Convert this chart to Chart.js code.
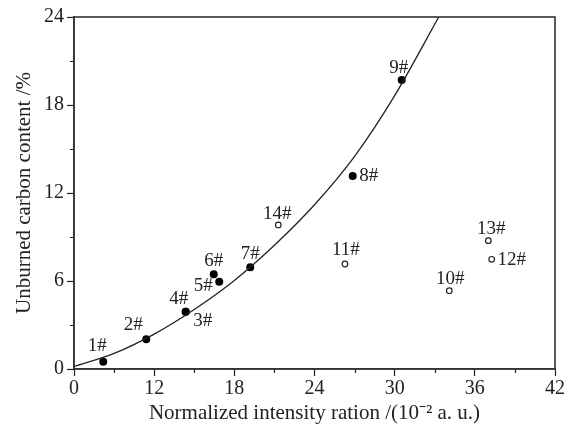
<!DOCTYPE html>
<html>
<head>
<meta charset="utf-8">
<script src="https://cdn.jsdelivr.net/npm/chart.js@4/dist/chart.umd.min.js"></script>
<style>
  html, body { margin: 0; padding: 0; background: #fff; }
  canvas { display: block; }
</style>
</head>
<body>
<canvas id="c" width="574" height="426"></canvas>
<script>
// Samples lying on the fitted trend (filled markers)
const fitSamples = ['1#', '2#', '3#', '4#', '5#', '6#', '7#', '8#', '9#'];
const fitSampleX = [8.19, 11.41, 14.36, 14.36, 16.87, 16.46, 19.19, 26.86, 30.53];
const fitSampleY = [0.50, 2.02, 3.91, 3.91, 5.95, 6.46, 6.93, 13.16, 19.70];

// Samples off the trend (open markers)
const offSamples = ['10#', '11#', '12#', '13#', '14#'];
const offSampleX = [34.09, 26.28, 37.26, 37.01, 21.29];
const offSampleY = [5.34, 7.16, 7.48, 8.75, 9.82];

// Fitted curve, traced point by point
const curveX = [6, 9, 12, 15, 18, 21, 24, 27, 30, 33.3];
const curveY = [0.16, 1.06, 2.38, 4.06, 6.04, 8.44, 11.2, 14.5, 18.64, 24];

// Axis ticks and their printed labels
const xTickValues = [6, 12, 18, 24, 30, 36, 42];
const xTickLabels = ['0', '12', '18', '24', '30', '36', '42'];
const yTickValues = [0, 6, 12, 18, 24];
const yTickLabels = ['0', '6', '12', '18', '24'];

// Text placement of sample names around their markers, [dx, dy] in px
const fitLabelOffsets = [[-6, -16], [-13, -14], [17, 9], [-7, -13], [-16, 4], [0, -13], [0, -13], [16, 0], [-3, -12]];
const offLabelOffsets = [[1, -12], [1, -13.5], [20, 1], [3, -12], [-1, -11]];

const INK = '#222';
const SERIF = "'Liberation Serif', 'Times New Roman', serif";

const toPoints = (xs, ys) => xs.map((x, i) => ({ x: x, y: ys[i] }));

// Minor ticks halfway between labelled ticks, plus the closing frame
const framePlugin = {
  id: 'frame',
  afterDraw(chart) {
    const ctx = chart.ctx;
    const a = chart.chartArea;
    const xs = chart.scales.x, ys = chart.scales.y;
    ctx.save();
    ctx.strokeStyle = INK;
    ctx.lineWidth = 1.2;
    ctx.beginPath();
    for (let i = 0; i < xTickValues.length - 1; i++) {
      const px = Math.round(xs.getPixelForValue((xTickValues[i] + xTickValues[i + 1]) / 2)) + 0.5;
      ctx.moveTo(px, a.bottom);
      ctx.lineTo(px, a.bottom + 4);
    }
    for (let i = 0; i < yTickValues.length - 1; i++) {
      const py = Math.round(ys.getPixelForValue((yTickValues[i] + yTickValues[i + 1]) / 2)) + 0.5;
      ctx.moveTo(a.left - 4, py);
      ctx.lineTo(a.left, py);
    }
    ctx.stroke();
    ctx.lineWidth = 1.6;
    ctx.strokeStyle = '#333';
    ctx.strokeRect(a.left, a.top, a.right - a.left, a.bottom - a.top);
    ctx.restore();
  }
};

// Sample names written next to each marker
const namePlugin = {
  id: 'names',
  afterDatasetsDraw(chart) {
    const ctx = chart.ctx;
    ctx.save();
    ctx.font = '19px ' + SERIF;
    ctx.fillStyle = INK;
    ctx.textAlign = 'center';
    ctx.textBaseline = 'middle';
    const put = (dsIndex, names, offsets) => {
      const meta = chart.getDatasetMeta(dsIndex);
      meta.data.forEach((el, i) => {
        ctx.fillText(names[i], el.x + offsets[i][0], el.y + offsets[i][1]);
      });
    };
    put(1, fitSamples, fitLabelOffsets);
    put(2, offSamples, offLabelOffsets);
    ctx.restore();
  }
};

new Chart(document.getElementById('c'), {
  type: 'scatter',
  data: {
    datasets: [
      {
        label: 'Fit',
        data: toPoints(curveX, curveY),
        showLine: true,
        cubicInterpolationMode: 'monotone',
        borderColor: INK,
        borderWidth: 1.3,
        pointRadius: 0,
        fill: false
      },
      {
        label: 'On trend',
        data: toPoints(fitSampleX, fitSampleY),
        pointRadius: 4,
        pointBackgroundColor: '#000',
        pointBorderColor: '#000',
        pointBorderWidth: 0
      },
      {
        label: 'Off trend',
        data: toPoints(offSampleX, offSampleY),
        pointRadius: 2.8,
        pointBackgroundColor: '#fff',
        pointBorderColor: INK,
        pointBorderWidth: 1.2
      }
    ]
  },
  options: {
    responsive: false,
    devicePixelRatio: 1,
    animation: false,
    layout: { padding: { top: 17, right: 19, left: 0, bottom: 0 } },
    plugins: { legend: { display: false }, tooltip: { enabled: false } },
    scales: {
      x: {
        type: 'linear',
        min: 6,
        max: 42,
        afterBuildTicks: s => { s.ticks = xTickValues.map(v => ({ value: v })); },
        afterFit: s => { s.height = 57; },
        ticks: {
          callback: v => xTickLabels[xTickValues.indexOf(v)],
          font: { family: SERIF, size: 20 },
          color: INK,
          padding: 1,
          maxRotation: 0
        },
        grid: { drawOnChartArea: false, tickLength: 7, tickColor: INK, tickWidth: 1.2 },
        border: { display: true, color: '#333', width: 1.6 },
        title: {
          display: true,
          text: 'Normalized intensity ration /(10\u207B\u00B2 a. u.)',
          font: { family: SERIF, size: 21 },
          color: INK,
          padding: { top: 0, bottom: 0 }
        }
      },
      y: {
        type: 'linear',
        min: 0,
        max: 24,
        afterBuildTicks: s => { s.ticks = yTickValues.map(v => ({ value: v })); },
        afterFit: s => { s.width = 74; },
        ticks: {
          callback: v => yTickLabels[yTickValues.indexOf(v)],
          font: { family: SERIF, size: 20 },
          color: INK,
          padding: 3
        },
        grid: { drawOnChartArea: false, tickLength: 7, tickColor: INK, tickWidth: 1.2 },
        border: { display: true, color: '#333', width: 1.6 },
        title: {
          display: true,
          text: 'Unburned carbon content /%',
          font: { family: SERIF, size: 21 },
          color: INK,
          padding: { top: 12, bottom: 0 }
        }
      }
    }
  },
  plugins: [framePlugin, namePlugin]
});
</script>
</body>
</html>
